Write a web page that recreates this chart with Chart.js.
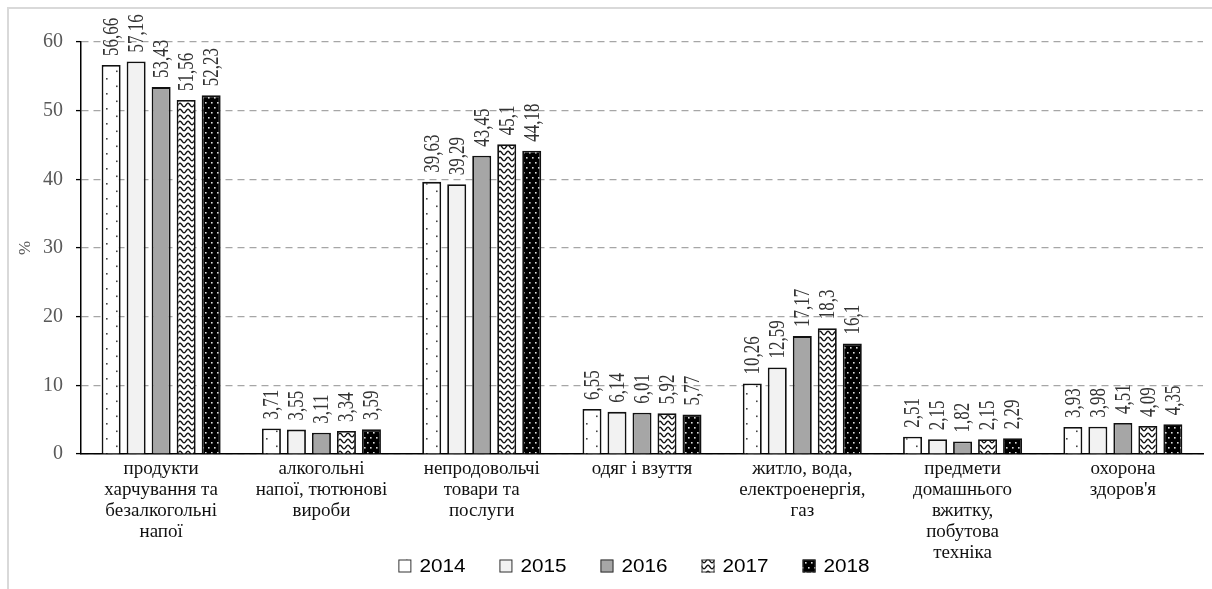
<!DOCTYPE html>
<html>
<head>
<meta charset="utf-8">
<script src="https://cdn.jsdelivr.net/npm/chart.js@4.4.1/dist/chart.umd.min.js"></script>
<style>
  html, body { margin: 0; padding: 0; background: #fff; overflow: hidden; }
  #wrap { position: absolute; left: 0; top: 0; width: 1212px; height: 589px; }
</style>
</head>
<body>
<div id="wrap"><canvas id="chart"></canvas></div>
<script>
const categories = [
  ["продукти", "харчування та", "безалкогольні", "напої"],
  ["алкогольні", "напої, тютюнові", "вироби"],
  ["непродовольчі", "товари та", "послуги"],
  ["одяг і взуття"],
  ["житло, вода,", "електроенергія,", "газ"],
  ["предмети", "домашнього", "вжитку,", "побутова", "техніка"],
  ["охорона", "здоров'я"]
];

const years = ["2014", "2015", "2016", "2017", "2018"];

const values2014 = [56.66, 3.71, 39.63, 6.55, 10.26, 2.51, 3.93];
const values2015 = [57.16, 3.55, 39.29, 6.14, 12.59, 2.15, 3.98];
const values2016 = [53.43, 3.11, 43.45, 6.01, 17.17, 1.82, 4.51];
const values2017 = [51.56, 3.34, 45.1, 5.92, 18.3, 2.15, 4.09];
const values2018 = [52.23, 3.59, 44.18, 5.77, 16.1, 2.29, 4.35];

const yMin = 0;
const yMax = 60;
const yStep = 10;
const yTitle = "%";

const serif = '"Liberation Serif", "Times New Roman", serif';
const sans = '"Liberation Sans", Arial, sans-serif';

function makeTile(w, h, draw) {
  const c = document.createElement("canvas");
  c.width = w;
  c.height = h;
  const g = c.getContext("2d");
  draw(g, w, h);
  return g.createPattern(c, "repeat");
}

// sparse dots on white
const pattern2014 = makeTile(20, 15, (g, w, h) => {
  g.fillStyle = "#fff";
  g.fillRect(0, 0, w, h);
  g.fillStyle = "#444";
  g.fillRect(6, 3, 1.6, 1.6);
  g.fillRect(16, 10.5, 1.6, 1.6);
});

// waves on white
const pattern2017 = makeTile(8, 6, (g, w, h) => {
  g.fillStyle = "#fff";
  g.fillRect(0, 0, w, h);
  g.strokeStyle = "#111";
  g.lineWidth = 1.4;
  g.beginPath();
  for (let x = 0; x <= w; x += 0.5) {
    const y = 3 + 1.8 * Math.cos((x / w) * Math.PI * 2);
    if (x === 0) g.moveTo(x, y); else g.lineTo(x, y);
  }
  g.stroke();
});

// white dots on black
const pattern2018 = makeTile(6, 10, (g, w, h) => {
  g.fillStyle = "#000";
  g.fillRect(0, 0, w, h);
  g.fillStyle = "#ddd";
  g.fillRect(1, 2, 1.6, 1.6);
  g.fillRect(4, 7, 1.6, 1.6);
});

const fills = [pattern2014, "#f2f2f2", "#a6a6a6", pattern2017, pattern2018];
const seriesValues = [values2014, values2015, values2016, values2017, values2018];

const datasets = years.map((year, i) => ({
  label: year,
  data: seriesValues[i],
  backgroundColor: fills[i],
  borderColor: "#111",
  borderWidth: 1.8,
  categoryPercentage: 0.78,
  barPercentage: 0.76
}));

function formatValue(v) {
  return String(v).replace(".", ",");
}

const frame = {
  id: "frame",
  beforeDraw(chart) {
    const ctx = chart.ctx;
    ctx.save();
    ctx.fillStyle = "#fff";
    ctx.fillRect(0, 0, chart.width, chart.height);
    ctx.strokeStyle = "#d9d9d9";
    ctx.lineWidth = 2;
    ctx.beginPath();
    ctx.moveTo(8, chart.height);
    ctx.lineTo(8, 8);
    ctx.lineTo(chart.width, 8);
    ctx.stroke();
    ctx.restore();
  }
};

const valueLabels = {
  id: "valueLabels",
  afterDatasetsDraw(chart) {
    const ctx = chart.ctx;
    ctx.save();
    ctx.fillStyle = "#333";
    ctx.font = "17px " + serif;
    ctx.textAlign = "left";
    ctx.textBaseline = "middle";
    chart.data.datasets.forEach((ds, i) => {
      chart.getDatasetMeta(i).data.forEach((bar, j) => {
        ctx.save();
        ctx.translate(bar.x + 1, bar.y - 9);
        ctx.scale(1.3, 1);
        ctx.rotate(-Math.PI / 2);
        ctx.fillText(formatValue(ds.data[j]), 0, 0);
        ctx.restore();
      });
    });
    ctx.restore();
  }
};

const bottomLegend = {
  id: "bottomLegend",
  afterDraw(chart) {
    const ctx = chart.ctx;
    const stretch = 1.15;
    const box = 13;
    const gap = 8;
    const spacing = 34;
    const cy = 566;
    ctx.save();
    ctx.font = "18px " + sans;
    const widths = years.map(y => ctx.measureText(y).width * stretch);
    const total = widths.reduce((s, w) => s + box + gap + w, 0) + spacing * (years.length - 1);
    let x = 634 - total / 2;
    years.forEach((y, i) => {
      ctx.fillStyle = fills[i];
      ctx.fillRect(x, cy - box / 2, box, box);
      ctx.strokeStyle = "#333";
      ctx.lineWidth = 1;
      ctx.strokeRect(x + 0.5, cy - box / 2 + 0.5, box - 1, box - 1);
      ctx.save();
      ctx.translate(x + box + gap, cy);
      ctx.scale(stretch, 1);
      ctx.fillStyle = "#000";
      ctx.textBaseline = "middle";
      ctx.fillText(y, 0, 1);
      ctx.restore();
      x += box + gap + widths[i] + spacing;
    });
    ctx.restore();
  }
};

new Chart(document.getElementById("chart"), {
  type: "bar",
  data: {
    labels: categories,
    datasets: datasets
  },
  options: {
    responsive: true,
    maintainAspectRatio: false,
    animation: false,
    events: [],
    layout: {
      padding: { top: 42, right: 9, bottom: 0, left: 0 }
    },
    plugins: {
      legend: { display: false },
      tooltip: { enabled: false }
    },
    scales: {
      x: {
        grid: { display: false, drawTicks: false },
        border: { display: true, color: "#000", width: 1.5 },
        ticks: {
          color: "#111",
          padding: 5,
          maxRotation: 0,
          autoSkip: false,
          font: { family: serif, size: 19, lineHeight: 1.1 }
        },
        afterFit(scale) {
          scale.height = 135;
        }
      },
      y: {
        min: yMin,
        max: yMax,
        ticks: {
          stepSize: yStep,
          color: "#595959",
          padding: 13,
          font: { family: serif, size: 20 }
        },
        grid: {
          color: "#a6a6a6",
          lineWidth: 1.2,
          tickLength: 5,
          tickColor: "#000",
          tickWidth: 1.3
        },
        border: { display: true, color: "#000", width: 1.5, dash: [7, 5] },
        title: {
          display: true,
          text: yTitle,
          color: "#595959",
          font: { family: serif, size: 17 },
          padding: { top: 15, bottom: 0 }
        },
        afterFit(scale) {
          scale.width = 81;
        }
      }
    }
  },
  plugins: [frame, valueLabels, bottomLegend]
});
</script>
</body>
</html>
